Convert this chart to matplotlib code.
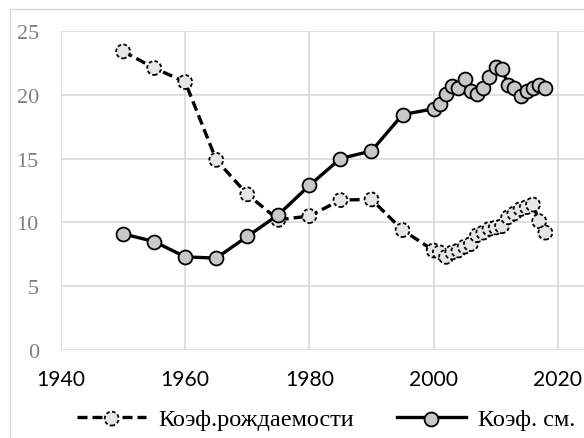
import matplotlib
matplotlib.use("Agg")
import matplotlib.pyplot as plt
from matplotlib.lines import Line2D
from matplotlib.patches import Rectangle
from matplotlib.legend_handler import HandlerTuple

# --- datos ---
years = [1950, 1955, 1960, 1965, 1970, 1975, 1980, 1985, 1990, 1995,
         2000, 2001, 2002, 2003, 2004, 2005, 2006, 2007, 2008, 2009,
         2010, 2011, 2012, 2013, 2014, 2015, 2016, 2017, 2018]
birth = [23.4, 22.1, 21.0, 14.9, 12.2, 10.2, 10.5, 11.75, 11.8, 9.4,
         7.8, 7.65, 7.3, 7.65, 7.8, 8.1, 8.3, 9.0, 9.2, 9.5,
         9.6, 9.7, 10.4, 10.7, 11.05, 11.2, 11.4, 10.1, 9.2]
death = [9.1, 8.5, 7.3, 7.2, 8.9, 10.6, 12.9, 15.0, 15.6, 18.45,
         18.9, 19.3, 20.1, 20.7, 20.5, 21.2, 20.3, 20.1, 20.5, 21.4,
         22.2, 22.0, 20.8, 20.5, 19.9, 20.3, 20.5, 20.8, 20.5]
label_birth = "Коэф.рождаемости"
label_death = "Коэф. см."
xticks = [1940, 1960, 1980, 2000, 2020]
yticks = [0, 5, 10, 15, 20, 25]

GRID = "#d9d9d9"
FACE_B = "#e6e6e6"
FACE_D = "#c8c8c8"

fig = plt.figure(figsize=(5.84, 4.39), dpi=100)
fig.patch.set_facecolor("white")
# el area de trazado sigue mas alla del borde derecho (recortada como en el original)
ax = fig.add_axes([61 / 584, 88 / 439, 621 / 584, 319 / 439])

# marco exterior (recortado a la derecha y abajo)
fig.add_artist(Rectangle((10 / 584, -0.2), 2.0, 1.2 - 10 / 439,
                         transform=fig.transFigure, facecolor="none",
                         edgecolor=GRID, lw=1.0, zorder=0))

# serie 1: natalidad (discontinua)
ax.plot(years, birth, color="black", lw=2.4, dashes=(3, 1.5), zorder=2)
sc_b = ax.scatter(years, birth, s=100, facecolor=FACE_B, edgecolor="black",
                  linewidths=1.3, linestyles=(0, (2, 1.3)), zorder=3)
# serie 2: mortalidad (continua)
ax.plot(years, death, color="black", lw=2.4, zorder=4)
sc_d = ax.scatter(years, death, s=100, facecolor=FACE_D, edgecolor="black",
                  linewidths=1.3, zorder=5)

ax.set_xlim(1940, 2040)
ax.set_ylim(0, 25)
ax.set_xticks(xticks)
ax.set_yticks(yticks)
ax.grid(True, color=GRID, lw=1.2, zorder=0)
ax.set_axisbelow(True)
for s in ax.spines.values():
    s.set_visible(False)
ax.tick_params(length=0)
ax.tick_params(axis="y", pad=16, labelsize=16, labelcolor="#808080")
ax.tick_params(axis="x", pad=14, labelsize=15.2, labelcolor="black")
for t in ax.get_yticklabels():
    t.set_fontfamily("Liberation Serif")
for t in ax.get_xticklabels():
    t.set_fontfamily("Lato")

# leyenda
h_b = (Line2D([], [], color="black", lw=2.4, dashes=(3, 1.5)), sc_b)
h_d = (Line2D([], [], color="black", lw=2.4), sc_d)
fig.legend([h_b, h_d], [label_birth, label_death],
           handler_map={tuple: HandlerTuple(ndivide=1, pad=0)},
           loc="center left", bbox_to_anchor=(77 / 584, 1 - 420 / 439),
           ncol=2, frameon=False, handlelength=2.85, handletextpad=0.5,
           columnspacing=1.75, borderpad=0, borderaxespad=0,
           prop={"family": "Liberation Serif", "size": 17.5})

fig.savefig("out.png", dpi=100, facecolor="white")
